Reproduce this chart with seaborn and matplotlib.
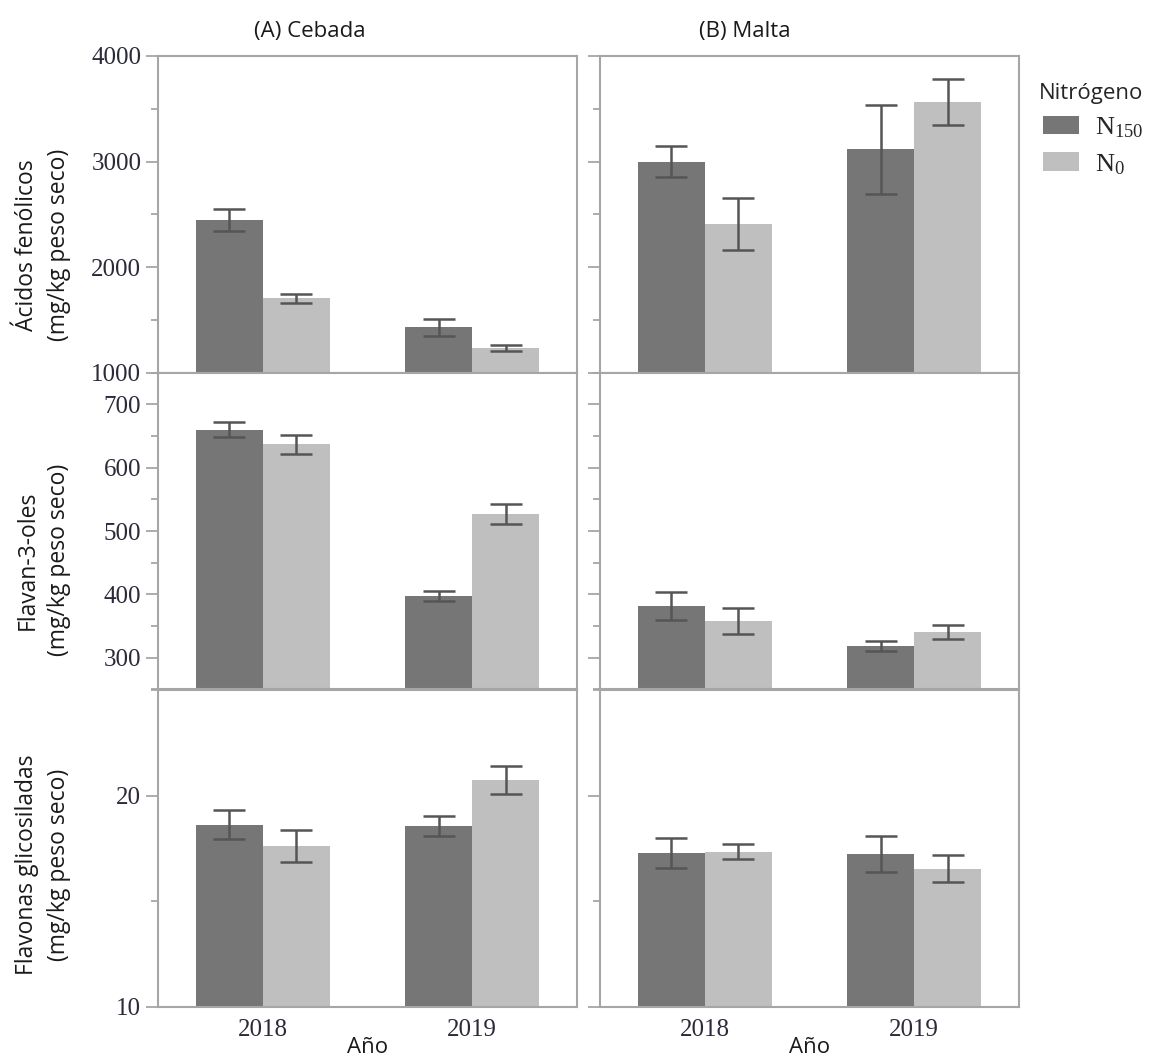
import matplotlib
matplotlib.use("Agg")
import matplotlib.pyplot as plt
import numpy as np
import pandas as pd
import seaborn as sns
from matplotlib.ticker import MultipleLocator, NullFormatter
from matplotlib.patches import Patch

# ---- data -------------------------------------------------------------
years = ["2018", "2019"]
nitrogen_levels = ["N150", "N0"]
nitrogen_labels = [r"$\mathregular{N_{150}}$", r"$\mathregular{N_{0}}$"]

# Ácidos fenólicos (mg/kg peso seco)
barley_phenolic_n150 = [2445, 1430]
barley_phenolic_n150_err = [105, 78]
barley_phenolic_n0 = [1706, 1231]
barley_phenolic_n0_err = [42, 28]
malt_phenolic_n150 = [3000, 3115]
malt_phenolic_n150_err = [150, 425]
malt_phenolic_n0 = [2408, 3561]
malt_phenolic_n0_err = [245, 218]

# Flavan-3-oles (mg/kg peso seco)
barley_flavanol_n150 = [660, 397]
barley_flavanol_n150_err = [12, 8]
barley_flavanol_n0 = [637, 527]
barley_flavanol_n0_err = [15, 16]
malt_flavanol_n150 = [381, 319]
malt_flavanol_n150_err = [22, 8]
malt_flavanol_n0 = [358, 340]
malt_flavanol_n0_err = [21, 11]

# Flavonas glicosiladas (mg/kg peso seco)
barley_flavone_n150 = [18.62, 18.56]
barley_flavone_n150_err = [0.68, 0.46]
barley_flavone_n0 = [17.62, 20.75]
barley_flavone_n0_err = [0.76, 0.67]
malt_flavone_n150 = [17.27, 17.22]
malt_flavone_n150_err = [0.71, 0.86]
malt_flavone_n0 = [17.35, 16.54]
malt_flavone_n0_err = [0.37, 0.63]

row_labels = [
    "Ácidos fenólicos\n(mg/kg peso seco)",
    "Flavan-3-oles\n(mg/kg peso seco)",
    "Flavonas glicosiladas\n(mg/kg peso seco)",
]
column_titles = ["(A) Cebada", "(B) Malta"]

panels = [
    [(barley_phenolic_n150, barley_phenolic_n150_err, barley_phenolic_n0, barley_phenolic_n0_err),
     (malt_phenolic_n150, malt_phenolic_n150_err, malt_phenolic_n0, malt_phenolic_n0_err)],
    [(barley_flavanol_n150, barley_flavanol_n150_err, barley_flavanol_n0, barley_flavanol_n0_err),
     (malt_flavanol_n150, malt_flavanol_n150_err, malt_flavanol_n0, malt_flavanol_n0_err)],
    [(barley_flavone_n150, barley_flavone_n150_err, barley_flavone_n0, barley_flavone_n0_err),
     (malt_flavone_n150, malt_flavone_n150_err, malt_flavone_n0, malt_flavone_n0_err)],
]

# axis settings per row: limits, major step, minor step
row_axes = [
    ((1000, 4000), 1000, 500),
    ((250, 750), 100, 50),
    ((10, 25), 10, 5),
]

# ---- style ------------------------------------------------------------
sns.set_style("ticks")
SANS = ["Open Sans", "DejaVu Sans"]
SERIF = ["Liberation Serif", "DejaVu Serif"]
plt.rcParams["font.family"] = SANS

palette = {"N150": "#767676", "N0": "#bfbfbf"}
spine_color = "#a6a6a6"
err_color = "#555555"
tick_text = "#2a2a3a"

W, H = 1153, 1059
fig = plt.figure(figsize=(W / 100, H / 100), dpi=100)

col_left = [158, 600]
col_width = 419
row_top = [56, 372.7, 690]
row_height = 316.7

for r in range(3):
    (ylo, yhi), major, minor = row_axes[r]
    for c in range(2):
        left = col_left[c] / W
        bottom = (H - row_top[r] - row_height) / H
        ax = fig.add_axes([left, bottom, col_width / W, row_height / H])

        n150, n150_err, n0, n0_err = panels[r][c]
        df = pd.DataFrame({
            "Año": years * 2,
            "Nitrógeno": [nitrogen_levels[0]] * 2 + [nitrogen_levels[1]] * 2,
            "valor": list(n150) + list(n0),
        })
        sns.barplot(data=df, x="Año", y="valor", hue="Nitrógeno",
                    order=years, hue_order=nitrogen_levels, palette=palette,
                    width=0.64, errorbar=None, legend=False, ax=ax,
                    linewidth=0, saturation=1)

        # error bars placed on the bars seaborn drew
        errs = [n150_err, n0_err]
        for container, err in zip(ax.containers, errs):
            for bar, e in zip(container, err):
                xc = bar.get_x() + bar.get_width() / 2
                ax.errorbar(xc, bar.get_height(), yerr=e, fmt="none",
                            ecolor=err_color, elinewidth=1.8,
                            capsize=11.5, capthick=1.8, zorder=5)

        ax.set_xlim(-0.5, 1.5)
        ax.set_ylim(ylo, yhi)
        ax.yaxis.set_major_locator(MultipleLocator(major))
        ax.yaxis.set_minor_locator(MultipleLocator(minor))
        ax.tick_params(axis="y", which="major", length=9, width=1.3,
                       color=spine_color, labelsize=18, labelcolor=tick_text,
                       pad=3)
        ax.tick_params(axis="y", which="minor", length=5, width=1.3,
                       color=spine_color)
        for lab in ax.get_yticklabels():
            lab.set_family(SERIF)
        if c == 1:
            ax.yaxis.set_major_formatter(NullFormatter())

        ax.set_ylabel("")
        if r == 2:
            ax.tick_params(axis="x", length=0, labelsize=18,
                           labelcolor=tick_text, pad=9)
            for lab in ax.get_xticklabels():
                lab.set_family(SERIF)
            ax.set_xlabel("Año", fontsize=16, labelpad=-3, color="#1a1a1a")
        else:
            ax.tick_params(axis="x", length=0, labelbottom=False)
            ax.set_xlabel("")

        for s in ax.spines.values():
            s.set_visible(True)
            s.set_color(spine_color)
            s.set_linewidth(1.5)

# row labels
label_centers = [245, 560, 865]
for text, yc in zip(row_labels, label_centers):
    fig.text(43 / W, 1 - yc / H, text, rotation=90, ha="center", va="center",
             multialignment="center", fontsize=16.5, linespacing=1.4,
             color="#1a1a1a")

# column titles
for text, xc in zip(column_titles, [310, 745]):
    fig.text(xc / W, 1 - 31 / H, text, ha="center", va="center",
             fontsize=16, color="#1a1a1a")

# legend
handles = [Patch(facecolor=palette[k], edgecolor="none") for k in nitrogen_levels]
leg = fig.legend(handles, nitrogen_labels, title="Nitrógeno",
                 loc="upper left", bbox_to_anchor=(1028 / W, 1 - 72 / H),
                 frameon=False, prop={"family": SERIF, "size": 19},
                 handlelength=1.35, handleheight=0.7, labelspacing=0.45,
                 handletextpad=0.6, borderaxespad=0, alignment="right")
leg.get_title().set_fontsize(16)
leg.get_title().set_family(SANS)

fig.savefig("out.png", dpi=100)
